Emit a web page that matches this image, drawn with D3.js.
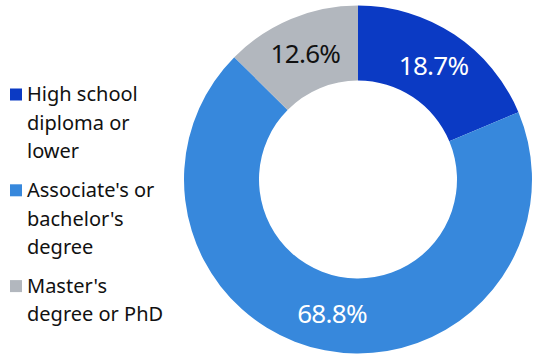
<!DOCTYPE html>
<html>
<head>
<meta charset="utf-8">
<script src="https://cdn.jsdelivr.net/npm/d3@7"></script>
<style>
  html, body { margin: 0; padding: 0; background: #fff; }
  svg { display: block; font-family: "Noto Sans", sans-serif; }
</style>
</head>
<body>
<svg id="chart" width="538" height="354"></svg>
<script>
// Education level shares (%)
const categories = ["High school diploma or lower", "Associate's or bachelor's degree", "Master's degree or PhD"];
const legendLines = [["High school", "diploma or", "lower"], ["Associate's or", "bachelor's", "degree"], ["Master's", "degree or PhD"]];
const values = [18.7, 68.8, 12.6];
const colors = ["#0b3ac4", "#3788dc", "#b2b7be"];
const labelColors = ["#ffffff", "#ffffff", "#111111"];

const svg = d3.select("#chart");
const cx = 358, cy = 179.5, outerR = 174, innerR = 99;

const pie = d3.pie().sort(null).value(d => d);
const arc = d3.arc().innerRadius(innerR).outerRadius(outerR);
const labelArc = d3.arc().innerRadius((innerR + outerR) / 2).outerRadius((innerR + outerR) / 2);

const g = svg.append("g").attr("transform", `translate(${cx},${cy})`);
const arcs = pie(values);

g.selectAll("path.slice")
  .data(arcs)
  .join("path")
  .attr("class", "slice")
  .attr("d", arc)
  .attr("fill", (d, i) => colors[i]);

g.selectAll("text.val")
  .data(arcs)
  .join("text")
  .attr("class", "val")
  .attr("transform", d => `translate(${labelArc.centroid(d)})`)
  .attr("text-anchor", "middle")
  .attr("dy", "0.36em")
  .attr("font-size", 26)
  .attr("letter-spacing", -0.7)
  .attr("fill", (d, i) => labelColors[i])
  .text(d => d.data.toFixed(1) + "%");

// Legend
const lineH = 28.7, entryGap = 9.7;
let y = 101;
const legend = svg.append("g");
legendLines.forEach((lines, i) => {
  legend.append("rect")
    .attr("x", 10).attr("y", y - 12.5)
    .attr("width", 12).attr("height", 12)
    .attr("fill", colors[i]);
  const t = legend.append("text")
    .attr("x", 27).attr("y", y)
    .attr("font-size", 20)
    .attr("fill", "#111");
  lines.forEach((ln, j) => {
    t.append("tspan").attr("x", 27).attr("y", y + j * lineH).text(ln);
  });
  y += lines.length * lineH + entryGap;
});
</script>
</body>
</html>
